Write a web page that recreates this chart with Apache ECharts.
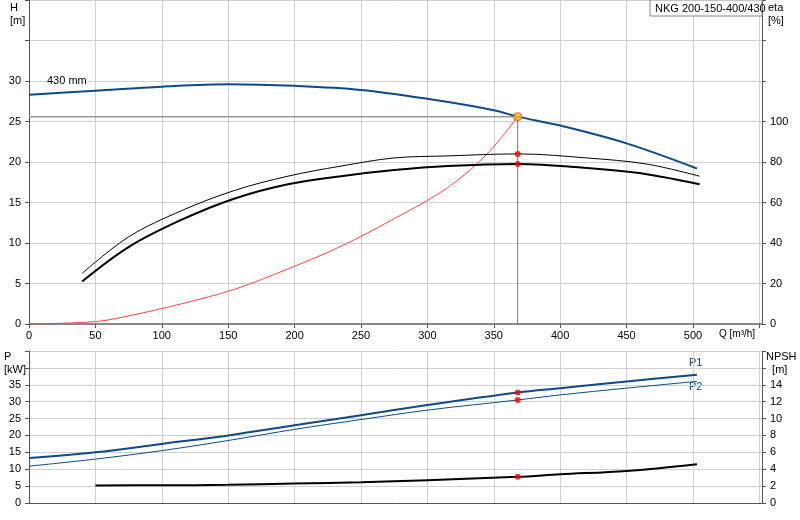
<!DOCTYPE html>
<html><head><meta charset="utf-8">
<script src="https://cdn.jsdelivr.net/npm/echarts@6/dist/echarts.min.js"></script>
<style>html,body{margin:0;padding:0;background:#fff}#c{width:800px;height:520px}</style>
</head><body><div id="c"></div>
<script>
// Data
const headQ = [0,50,100,150,200,250,300,350,368,400,450,503];
const headH = [28.3,28.8,29.3,29.6,29.4,28.9,27.8,26.4,25.6,24.5,22.3,19.2];
const etaQ = [40,75,115,155,195,235,275,315,368,420,465,505];
const eta1 = [25,43,56,66,73,78,82,83,84,82,79,73];
const eta2 = [21,38,51.5,62,69,73,76,78,79,77,74,69];
const sysQ = [0,50,75,115,155,195,235,275,315,345,368];
const sysH = [0,0.3,1,2.5,4.3,6.8,9.6,13,16.8,21,25.6];
const pQ = [0,50,100,150,200,250,300,368,400,450,503];
const p1 = [13.3,15,17.5,20,23,26,29,32.7,34,36,38];
const p2 = [10.9,13,15.5,18.5,21.8,24.7,27.5,30.5,32,34,36];
const npshQ = [50,100,150,200,250,300,368,400,450,503];
const npsh = [2.08,2.1,2.15,2.3,2.45,2.7,3.1,3.4,3.8,4.6];
const opQ = 368, opH = 25.6, opEta1 = 84, opEta2 = 79, opP1 = 32.7, opP2 = 30.5, opNpsh = 3.1;
const title = 'NKG 200-150-400/430';

const zip=(a,b)=>a.map((v,i)=>[v,b[i]]);
const blue='#0d4a86';
const sm=0.35;
const gridLine={show:true,lineStyle:{color:'#d0d0d0',width:1}};
const axLine={show:true,lineStyle:{color:'#555',width:1}};
const lbl={color:'#000',fontSize:11,fontFamily:'Arial, Liberation Sans'};
const chart=echarts.init(document.getElementById('c'));
chart.setOption({
 animation:false,
 grid:[{left:29,right:38,top:0,height:324},{left:29,right:38,top:351,height:152}],
 xAxis:[
  {gridIndex:0,type:'value',min:0,max:552,interval:50,axisLine:{show:true,lineStyle:{color:'#888',width:2}},axisTick:{show:true,length:4,lineStyle:{color:'#555'}},splitLine:gridLine,
   axisLabel:{...lbl,showMaxLabel:false,margin:6,formatter:v=>v<=500?v:''}},
  {gridIndex:1,type:'value',min:0,max:552,interval:50,axisLine:axLine,axisTick:{show:false},splitLine:gridLine,axisLabel:{show:false}}
 ],
 yAxis:[
  {gridIndex:0,type:'value',min:0,max:40,interval:5,axisLine:axLine,axisTick:{show:true,length:4,lineStyle:{color:'#555'}},splitLine:gridLine,
   axisLabel:{...lbl,formatter:v=>v<=30?v:''}},
  {gridIndex:0,type:'value',min:0,max:160,interval:20,position:'right',axisLine:axLine,axisTick:{show:true,length:4,lineStyle:{color:'#555'}},splitLine:{show:false},
   axisLabel:{...lbl,formatter:v=>v<=100?v:''}},
  {gridIndex:1,type:'value',min:0,max:45,interval:5,axisLine:axLine,axisTick:{show:true,length:4,lineStyle:{color:'#555'}},splitLine:gridLine,
   axisLabel:{...lbl,formatter:v=>v<=35?v:''}},
  {gridIndex:1,type:'value',min:0,max:18,interval:2,position:'right',axisLine:axLine,axisTick:{show:true,length:4,lineStyle:{color:'#555'}},splitLine:{show:false},
   axisLabel:{...lbl,formatter:v=>v<=14?v:''}}
 ],
 series:[
  {type:'line',xAxisIndex:0,yAxisIndex:0,data:[[0,opH],[opQ,opH]],symbol:'none',lineStyle:{color:'#999',width:1.5},z:1},
  {type:'line',xAxisIndex:0,yAxisIndex:0,data:[[opQ,opH],[opQ,0]],symbol:'none',lineStyle:{color:'#777',width:1},z:1},
  {type:'line',xAxisIndex:0,yAxisIndex:0,data:zip(sysQ,sysH),smooth:sm,symbol:'none',lineStyle:{color:'#f44',width:1}},
  {type:'line',xAxisIndex:0,yAxisIndex:0,data:zip(headQ,headH),smooth:sm,symbol:'none',lineStyle:{color:blue,width:2}},
  {type:'line',xAxisIndex:0,yAxisIndex:1,data:zip(etaQ,eta1),smooth:sm,symbol:'none',lineStyle:{color:'#000',width:1}},
  {type:'line',xAxisIndex:0,yAxisIndex:1,data:zip(etaQ,eta2),smooth:sm,symbol:'none',lineStyle:{color:'#000',width:2}},
  {type:'scatter',xAxisIndex:0,yAxisIndex:1,data:[[opQ,opEta1],[opQ,opEta2]],symbolSize:6,itemStyle:{color:'#f00'},z:5},
  {type:'scatter',xAxisIndex:0,yAxisIndex:0,data:[[opQ,opH]],symbolSize:8,itemStyle:{color:'#ffcc00',borderColor:'#e33',borderWidth:1},z:6},
  {type:'line',xAxisIndex:1,yAxisIndex:2,data:zip(pQ,p1),smooth:sm,symbol:'none',lineStyle:{color:blue,width:2}},
  {type:'line',xAxisIndex:1,yAxisIndex:2,data:zip(pQ,p2),smooth:sm,symbol:'none',lineStyle:{color:blue,width:1}},
  {type:'line',xAxisIndex:1,yAxisIndex:3,data:zip(npshQ,npsh),smooth:sm,symbol:'none',lineStyle:{color:'#000',width:2}},
  {type:'scatter',xAxisIndex:1,yAxisIndex:2,data:[[opQ,opP1],[opQ,opP2]],symbolSize:6,itemStyle:{color:'#f00'},z:5},
  {type:'scatter',xAxisIndex:1,yAxisIndex:3,data:[[opQ,opNpsh]],symbolSize:6,itemStyle:{color:'#f00'},z:5}
 ],
 graphic:[
  {type:'text',left:10,top:1,style:{text:'H\n[m]',fill:'#000',font:'11px Arial',align:'center',lineHeight:13}},
  {type:'text',left:768,top:1,style:{text:'eta\n[%]',fill:'#000',font:'11px Arial',lineHeight:13}},
  {type:'rect',shape:{x:650,y:0,width:112,height:16},style:{fill:'#fff',stroke:'#888'},z:10},
  {type:'text',left:655,top:3,z:11,style:{text:title,fill:'#000',font:'11px Arial'}},
  {type:'text',left:47,top:75,z:10,style:{text:'430 mm',fill:'#000',font:'11px Arial',backgroundColor:'#fff'}},
  {type:'text',left:719,top:329,style:{text:'Q [m³/h]',fill:'#000',font:'10px Arial'}},
  {type:'text',left:4,top:350,style:{text:'P\n[kW]',fill:'#000',font:'11px Arial',lineHeight:13}},
  {type:'text',left:766,top:350,style:{text:'NPSH\n  [m]',fill:'#000',font:'11px Arial',lineHeight:13}},
  {type:'text',left:689,top:357,style:{text:'P1',fill:blue,font:'11px Arial'}},
  {type:'text',left:689,top:381,style:{text:'P2',fill:blue,font:'11px Arial'}}
 ]
});
</script></body></html>
